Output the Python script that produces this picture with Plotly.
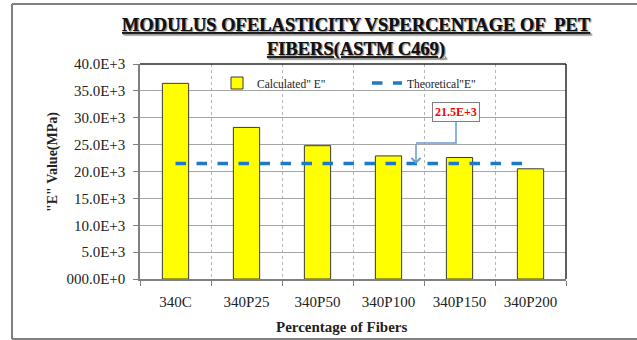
import plotly.graph_objects as go

categories = ["340C", "340P25", "340P50", "340P100", "340P150", "340P200"]
calculated_E = [36400, 28200, 24800, 22900, 22600, 20500]
theoretical_E = [21500, 21500, 21500, 21500, 21500, 21500]
y_tickvals = [0, 5000, 10000, 15000, 20000, 25000, 30000, 35000, 40000]
y_ticktext = ["000.0E+0", "5.0E+3", "10.0E+3", "15.0E+3", "20.0E+3",
              "25.0E+3", "30.0E+3", "35.0E+3", "40.0E+3"]
title_text = "MODULUS OFELASTICITY VSPERCENTAGE OF  PET<br>FIBERS(ASTM C469)"
callout_text = "21.5E+3"

W, H = 637, 340
L, R, T, B = 140, 566, 64, 279
FONT = "Liberation Serif, Times New Roman, serif"


def px(x):
    return (x - L) / (R - L)


def py(y):
    return (B - y) / (B - T)


fig = go.Figure()
fig.add_trace(go.Bar(
    x=categories, y=calculated_E, name='Calculated" E"',
    width=0.37,
    marker=dict(color="#FFFF00", line=dict(color="#3a3a3a", width=1)),
))
fig.add_trace(go.Scatter(
    x=categories, y=theoretical_E, name='Theoretical"E"', mode="lines",
    line=dict(color="#1f7ac6", width=3.5, dash="dash"),
))

frame = dict(color="#808080", width=2)
shapes = [
    # outer frame (left, top, bottom)
    dict(type="line", xref="paper", yref="paper", x0=px(12), x1=px(12),
         y0=py(339), y1=py(4), line=frame, layer="below"),
    dict(type="line", xref="paper", yref="paper", x0=px(12), x1=px(637),
         y0=py(4), y1=py(4), line=frame, layer="below"),
    dict(type="line", xref="paper", yref="paper", x0=px(12), x1=px(637),
         y0=py(339), y1=py(339), line=frame, layer="below"),
    # plot area top/right border
    dict(type="line", xref="paper", yref="paper", x0=0, x1=1, y0=1, y1=1,
         line=dict(color="#2a2a2a", width=1.5)),
    dict(type="line", xref="paper", yref="paper", x0=1, x1=1, y0=0, y1=1,
         line=dict(color="#2a2a2a", width=1.5)),
    # callout elbow
    dict(type="path", xref="paper", yref="paper",
         path=f"M {px(456)},{py(121)} L {px(456)},{py(143)} L {px(416)},{py(143)}",
         line=dict(color="#6a9bd1", width=1.5)),
]

annotations = [
    dict(text="<u>" + title_text.replace("<br>", "</u><br><u>") + "</u>",
         xref="paper", yref="paper", x=px(356), y=py(38), xanchor="center", yanchor="middle",
         showarrow=False, font=dict(family=FONT, size=18.5, color="#111111",
                                    weight="bold", shadow="1px 1px 1px #9a9a9a")),
    dict(text='"E" Value(MPa)', textangle=-90, xref="paper", yref="paper",
         x=px(53), y=py(162), xanchor="center", yanchor="middle", showarrow=False,
         font=dict(family=FONT, size=14, color="#222222", weight="bold")),
    dict(text="Percentage of Fibers", xref="paper", yref="paper",
         x=px(342), y=py(327), xanchor="center", yanchor="middle", showarrow=False,
         font=dict(family=FONT, size=15, color="#222222", weight="bold")),
    # arrow head segment
    dict(text="", xref="paper", yref="paper", x=px(416), y=py(164),
         ax=0, ay=-21, showarrow=True, arrowhead=4, arrowsize=1.2,
         arrowwidth=1.5, arrowcolor="#6a9bd1"),
    # callout label
    dict(text="<b>" + callout_text + "</b>", xref="paper", yref="paper",
         x=px(456), y=py(112), xanchor="center", yanchor="middle", showarrow=False,
         font=dict(family=FONT, size=12, color="#ff0000"),
         bgcolor="white", bordercolor="#7f7f7f", borderwidth=1, borderpad=2),
]

fig.update_layout(
    width=W, height=H,
    margin=dict(l=L, r=W - R, t=T, b=H - B),
    paper_bgcolor="white", plot_bgcolor="white",
    font=dict(family=FONT, color="#222222"),
    showlegend=True,
    legend=dict(orientation="h", x=px(217), y=py(83), xanchor="left", yanchor="middle",
                bgcolor="rgba(0,0,0,0)", font=dict(family=FONT, size=11.5, color="#222222"),
                itemwidth=30, traceorder="normal", entrywidth=105),
    shapes=shapes,
    annotations=annotations,
)
fig.update_xaxes(
    type="category", tickson="boundaries", ticks="outside", ticklen=5, tickcolor="#808080",
    showline=True, linecolor="#808080", linewidth=1.5,
    showgrid=True, gridcolor="#b5b5b5", griddash="dot", gridwidth=1,
    tickfont=dict(family=FONT, size=15, color="#222222"), ticklabelstandoff=8,
)
fig.update_yaxes(
    range=[0, 40000], tickvals=y_tickvals, ticktext=y_ticktext,
    ticks="outside", ticklen=5, tickcolor="#808080",
    showline=True, linecolor="#808080", linewidth=1.5,
    showgrid=True, gridcolor="#a6a6a6", gridwidth=1, zeroline=False,
    tickfont=dict(family=FONT, size=15, color="#222222"), ticklabelstandoff=5,
)

fig.write_html("out.html")
